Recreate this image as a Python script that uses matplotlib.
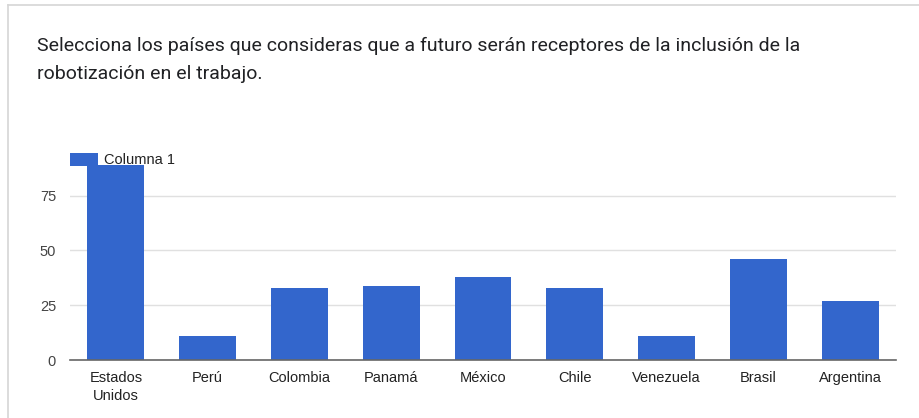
import matplotlib
matplotlib.use("Agg")
import matplotlib.pyplot as plt
from matplotlib.lines import Line2D
from matplotlib.patches import Patch

title_lines = [
    "Selecciona los países que consideras que a futuro serán receptores de la inclusión de la",
    "robotización en el trabajo.",
]
categories = ["Estados\nUnidos", "Perú", "Colombia", "Panamá", "México",
              "Chile", "Venezuela", "Brasil", "Argentina"]
values = [89, 11, 33, 34, 38, 33, 11, 46, 27]
yticks = [0, 25, 50, 75]
series_name = "Columna 1"

bar_color = "#3366cc"
W, H = 920, 418

fig = plt.figure(figsize=(W / 100, H / 100), dpi=100)
fig.patch.set_facecolor("white")

# card border (top and left edges)
fig.add_artist(Line2D([8 / W, 1], [1 - 4.5 / H, 1 - 4.5 / H], color="#d6d6d6", lw=1.2))
fig.add_artist(Line2D([8 / W, 8 / W], [0, 1 - 4.5 / H], color="#d6d6d6", lw=1.2))

# question title
fig.text(37 / W, 1 - 46 / H, title_lines[0], fontsize=14, family="Roboto",
         color="#202124", va="center", ha="left")
fig.text(37 / W, 1 - 74 / H, title_lines[1], fontsize=14, family="Roboto",
         color="#202124", va="center", ha="left")

left, right = 70 / W, 896 / W
bottom, top = 1 - 360 / H, 1 - 160 / H
ax = fig.add_axes([left, bottom, right - left, top - bottom])

x = range(len(categories))
ax.bar(x, values, width=0.62, color=bar_color, zorder=3)
ax.set_xlim(-0.5, len(categories) - 0.5)
ax.set_ylim(0, 91.3)

ax.set_yticks(yticks)
ax.set_yticklabels([str(t) for t in yticks], family="Liberation Sans",
                   fontsize=10.5, color="#444444")
ax.set_xticks(list(x))
ax.set_xticklabels(categories, family="Liberation Sans", fontsize=10.5,
                   color="#222222", linespacing=1.35)
ax.tick_params(axis="both", length=0)
ax.tick_params(axis="y", pad=10)
ax.tick_params(axis="x", pad=8)

ax.yaxis.grid(True, color="#e0e0e0", lw=1, zorder=0)
for s in ["top", "right", "left"]:
    ax.spines[s].set_visible(False)
ax.spines["bottom"].set_color("#666666")
ax.spines["bottom"].set_linewidth(1.2)
ax.spines["bottom"].set_zorder(4)

leg = ax.legend([Patch(facecolor=bar_color)], [series_name],
                loc="upper left", bbox_to_anchor=(-0.0075, 1.064), frameon=False,
                handlelength=1.93, handleheight=0.95, handletextpad=0.43,
                borderaxespad=0, prop={"family": "Liberation Sans", "size": 10.5})
leg.set_zorder(5)
for t in leg.get_texts():
    t.set_color("#222222")

fig.savefig("out.png", dpi=100)
